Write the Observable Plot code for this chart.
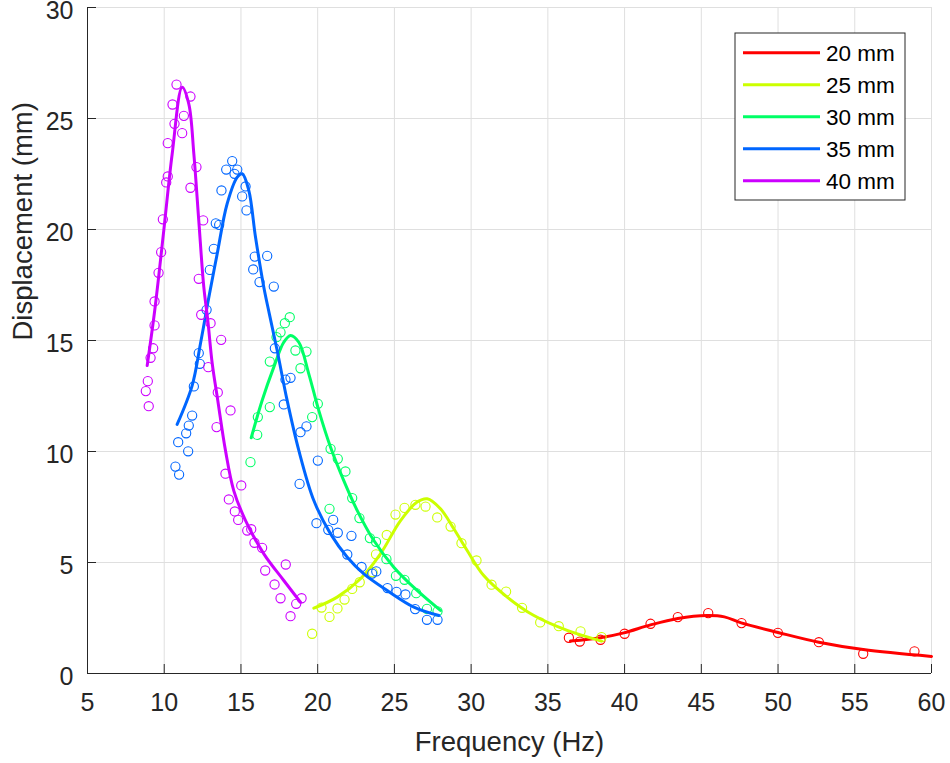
<!DOCTYPE html>
<html><head><meta charset="utf-8">
<script src="https://cdn.jsdelivr.net/npm/d3@7"></script>
<script src="https://cdn.jsdelivr.net/npm/@observablehq/plot@0.6"></script>
<style>
body{margin:0;background:#fff}
#chart{position:relative;width:950px;height:763px}
</style>
</head><body><div id="chart"></div>
<script>
// ---- data ----
const seriesLabels = ["20 mm", "25 mm", "30 mm", "35 mm", "40 mm"];
const seriesColors = ["#ff0000", "#ccff00", "#00ff66", "#0066ff", "#cc00ff"];
const xTicks = [5, 10, 15, 20, 25, 30, 35, 40, 45, 50, 55, 60];
const yTicks = [0, 5, 10, 15, 20, 25, 30];
const xDomain = [5, 60];
const yDomain = [0, 30];
const xLabel = "Frequency (Hz)";
const yLabel = "Displacement (mm)";

// measured points [frequency, displacement]
const pts20 = [[36.37,1.61],[37.08,1.44],[38.43,1.52],[40.00,1.79],[41.69,2.24],[43.47,2.54],[45.45,2.72],[47.62,2.27],[49.99,1.83],[52.66,1.41],[55.55,0.89],[58.89,1.00]];
const pts25 = [[19.64,1.79],[20.25,2.97],[20.77,2.55],[21.29,2.93],[21.75,3.33],[22.25,3.81],[22.74,4.11],[23.58,4.56],[23.80,5.37],[24.50,6.24],[25.07,7.16],[25.66,7.46],[26.37,7.60],[27.03,7.52],[27.79,7.03],[28.66,6.62],[29.37,5.87],[30.35,5.09],[31.33,4.00],[32.28,3.69],[33.32,2.96],[34.50,2.30],[35.71,2.13],[37.13,1.90],[38.50,1.64]];
const pts30 = [[15.62,9.52],[16.06,10.75],[16.10,11.55],[16.88,12.00],[16.88,14.05],[17.32,15.15],[17.58,15.37],[17.86,15.78],[18.18,16.05],[18.55,14.55],[19.27,14.50],[18.88,13.75],[20.01,12.15],[19.64,11.55],[20.84,10.12],[21.31,9.67],[21.81,9.10],[20.77,7.42],[22.25,7.90],[22.72,7.00],[23.40,6.10],[23.80,5.93],[24.48,5.15],[25.10,4.40],[25.66,4.22],[26.42,3.62],[27.12,2.91],[27.81,2.80]];
const pts35 = [[10.73,9.32],[10.97,8.96],[10.91,10.42],[11.56,10.01],[11.43,10.82],[11.60,11.17],[11.82,11.62],[11.93,12.93],[12.25,14.43],[12.32,13.95],[12.76,16.38],[12.97,18.18],[13.23,19.13],[13.36,20.28],[13.58,20.21],[13.73,21.76],[14.04,22.70],[14.43,23.08],[14.76,22.70],[14.58,22.51],[15.08,21.49],[15.30,21.94],[15.36,20.86],[15.80,18.20],[15.90,18.78],[16.71,18.81],[16.21,17.63],[17.14,17.43],[17.21,14.65],[17.90,13.24],[18.23,13.32],[17.79,12.12],[18.88,10.87],[19.27,11.13],[20.01,9.59],[18.82,8.54],[19.92,6.77],[21.01,6.92],[20.69,6.47],[21.31,6.34],[22.20,6.20],[21.93,5.36],[22.86,4.80],[23.82,4.60],[23.55,4.50],[24.55,3.85],[25.14,3.68],[25.72,3.56],[26.35,2.90],[27.12,2.42],[27.81,2.42]];
const pts40 = [[8.80,12.72],[8.93,13.17],[8.99,12.04],[9.11,14.22],[9.28,14.65],[9.37,15.68],[9.37,16.76],[9.63,18.05],[9.80,18.98],[9.91,20.46],[10.13,22.12],[10.23,22.39],[10.23,23.89],[10.54,25.63],[10.67,24.76],[10.80,26.53],[11.17,24.34],[11.28,25.12],[11.71,25.99],[11.71,21.88],[12.10,22.81],[12.54,20.41],[12.25,17.78],[12.41,16.16],[13.02,15.78],[13.71,15.03],[12.87,13.80],[13.49,12.66],[14.32,11.85],[13.41,11.10],[13.99,9.00],[15.02,8.47],[14.21,7.84],[14.60,7.30],[14.82,6.92],[15.41,6.44],[15.67,6.50],[15.88,5.89],[16.38,5.66],[17.92,4.91],[16.58,4.64],[17.19,4.01],[17.58,3.39],[18.95,3.39],[18.60,3.14],[18.23,2.58]];

// fitted curves [frequency, displacement]
const fit20 = [[36.47,1.46],[38.43,1.61],[39.95,1.83],[41.69,2.19],[43.47,2.48],[45.39,2.61],[46.50,2.55],[47.60,2.28],[50.00,1.85],[52.66,1.41],[55.55,1.08],[60.00,0.77]];
const fit25 = [[19.75,2.94],[21.27,3.44],[22.79,4.27],[24.09,5.39],[25.40,6.89],[26.48,7.72],[27.14,7.87],[28.00,7.42],[28.87,6.52],[29.74,5.54],[30.82,4.41],[32.35,3.44],[34.09,2.61],[36.26,1.94],[38.50,1.46]];
const fit30 = [[15.67,10.62],[16.38,12.30],[17.14,13.80],[17.79,14.92],[18.23,15.23],[18.77,14.92],[19.42,13.50],[20.07,11.85],[20.84,10.19],[21.70,8.69],[22.58,7.34],[23.66,5.99],[24.96,4.79],[26.48,3.74],[28.00,2.84]];
const fit35 = [[10.84,11.22],[11.82,12.97],[12.36,14.85],[12.84,16.70],[13.45,18.90],[14.10,21.16],[14.76,22.36],[15.08,22.51],[15.51,21.76],[15.95,19.65],[16.49,17.40],[16.85,16.20],[17.36,14.55],[18.01,12.30],[18.77,10.05],[19.75,7.79],[20.84,6.29],[21.93,5.24],[23.01,4.49],[24.53,3.74],[26.27,2.99],[27.90,2.61]];
const fit40 = [[8.89,13.87],[9.38,16.35],[9.97,19.95],[10.52,23.41],[11.17,26.41],[11.60,25.66],[11.93,23.41],[12.25,20.41],[12.58,17.40],[12.84,15.90],[13.13,13.95],[13.49,12.30],[13.99,10.05],[14.53,8.24],[15.30,6.89],[16.49,5.39],[17.79,4.19],[18.88,3.21]];

const pointSets = [pts20, pts25, pts30, pts35, pts40];
const fitSets = [fit20, fit25, fit30, fit35, fit40];

// ---- chart ----
const FONT = "'Liberation Sans', Arial, Helvetica, sans-serif";
const AX = "#262626";
const GRID = "#dfdfdf";

const seriesMarks = [];
seriesLabels.forEach((lab, i) => {
  seriesMarks.push(Plot.dot(pointSets[i], {x: d => d[0], y: d => d[1], r: 4.6, fill: "none", stroke: seriesColors[i], strokeWidth: 1.1}));
  seriesMarks.push(Plot.line(fitSets[i], {x: d => d[0], y: d => d[1], stroke: seriesColors[i], strokeWidth: 3, curve: "catmull-rom"}));
});

const chart = Plot.plot({
  width: 950,
  height: 763,
  marginLeft: 87,
  marginRight: 19,
  marginTop: 7,
  marginBottom: 90,
  style: {fontFamily: FONT, background: "white", color: AX},
  x: {domain: xDomain},
  y: {domain: yDomain},
  marks: [
    Plot.gridX(xTicks, {stroke: GRID, strokeOpacity: 1, strokeWidth: 1}),
    Plot.gridY(yTicks, {stroke: GRID, strokeOpacity: 1, strokeWidth: 1}),
    ...seriesMarks,
    Plot.ruleX([xDomain[0]], {stroke: AX, strokeWidth: 1}),
    Plot.ruleY([yDomain[0]], {stroke: AX, strokeWidth: 1}),
    Plot.ruleX(xTicks, {x: d => d, y1: yDomain[0], y2: yDomain[0], insetTop: -9, stroke: AX, strokeWidth: 1}),
    Plot.ruleY(yTicks, {y: d => d, x1: xDomain[0], x2: xDomain[0], insetRight: -9, stroke: AX, strokeWidth: 1}),
    Plot.axisX(xTicks, {tickSize: 0, tickPadding: 20, fontSize: 25, label: null, fill: AX}),
    Plot.axisY(yTicks, {tickSize: 0, tickPadding: 14, dy: 3.5, fontSize: 25, label: null, fill: AX}),
    Plot.text([xLabel], {frameAnchor: "bottom", lineAnchor: "bottom", dy: 77, fontSize: 27.5, fill: AX, text: d => d}),
    Plot.text([yLabel], {frameAnchor: "left", lineAnchor: "top", rotate: -90, dx: -75, fontSize: 27.5, fill: AX, text: d => d})
  ]
});

// legend inside the axes (top-right)
const svg = d3.select(chart);
const lg = svg.append("g").attr("transform", "translate(735,33)");
lg.append("rect").attr("width", 170).attr("height", 167).attr("fill", "white").attr("stroke", AX).attr("stroke-width", 1);
seriesLabels.forEach((lab, i) => {
  const cy = 19.7 + i * 32;
  lg.append("line").attr("x1", 8).attr("x2", 85).attr("y1", cy).attr("y2", cy)
    .attr("stroke", seriesColors[i]).attr("stroke-width", 3);
  lg.append("text").attr("x", 91).attr("y", cy).attr("dy", "0.35em")
    .attr("text-anchor", "start")
    .attr("font-size", 22.5).attr("font-family", FONT).attr("fill", "#000").text(lab);
});

document.getElementById("chart").appendChild(chart);
</script>
</body></html>
